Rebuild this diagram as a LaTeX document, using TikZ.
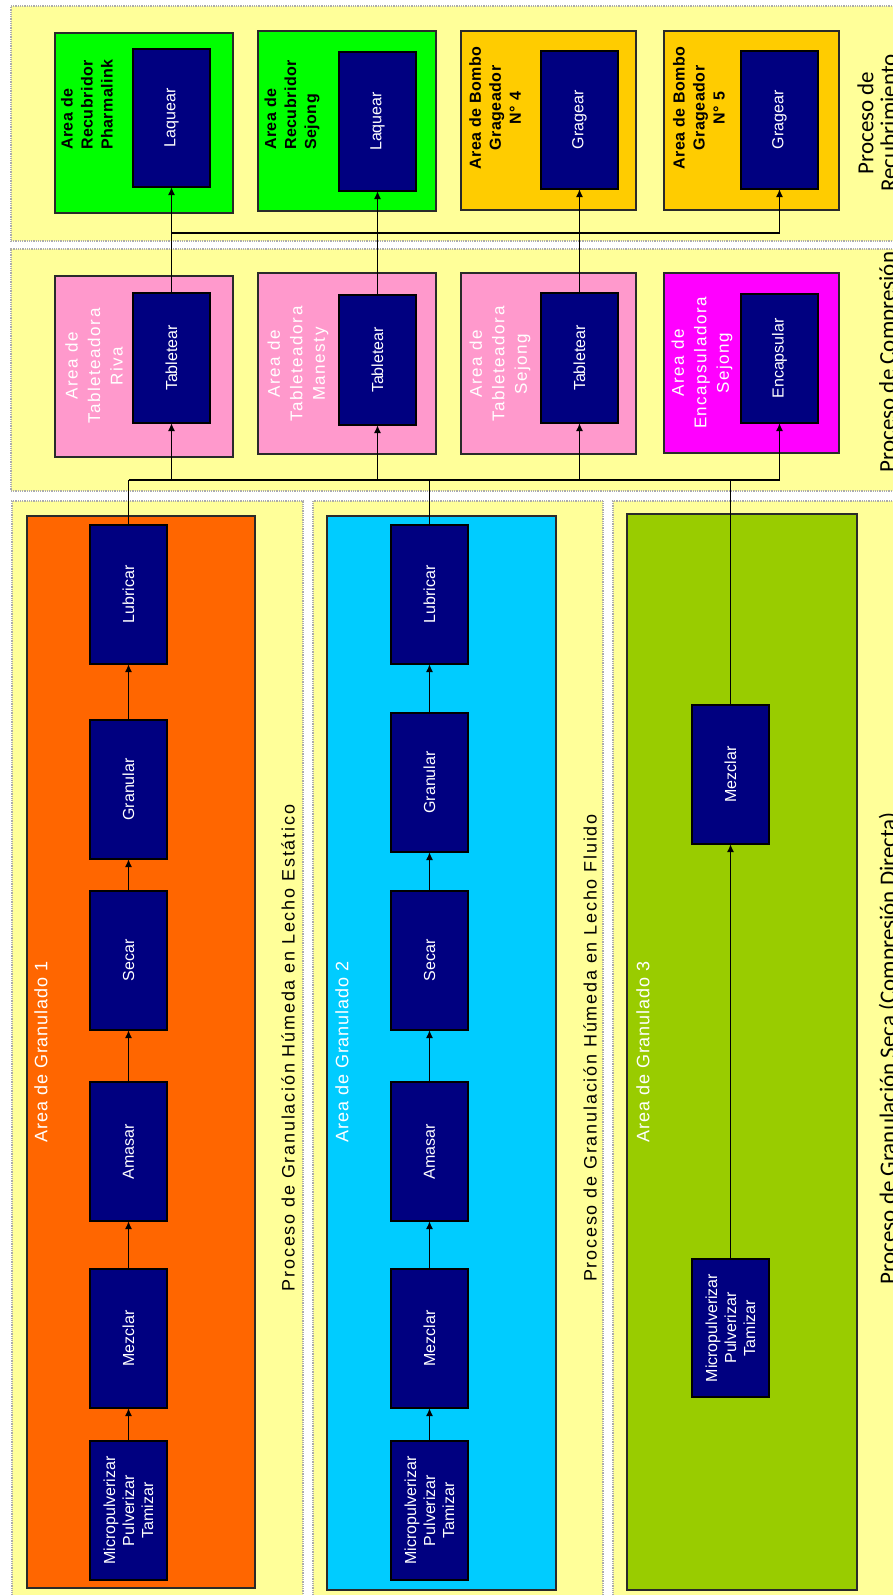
\documentclass[tikz,border=0pt]{standalone}
\usepackage{fontspec}
\setmainfont{Liberation Sans}
\newfontfamily\calfont{Carlito}
\newfontfamily\areafont{Liberation Sans}[LetterSpace=9.0]
\newfontfamily\granfont{Liberation Sans}[LetterSpace=5.0]
\newfontfamily\procfont{Liberation Sans}[LetterSpace=10.0]
\newfontfamily\boldlbl{Liberation Sans Bold}[LetterSpace=3.0]
\usetikzlibrary{arrows.meta}

\definecolor{panelY}{HTML}{FFFF99}
\definecolor{orangeA}{HTML}{FF6600}
\definecolor{cyanA}{HTML}{00CCFF}
\definecolor{greenA}{HTML}{99CC00}
\definecolor{limeA}{HTML}{00FF00}
\definecolor{goldA}{HTML}{FFCC00}
\definecolor{pinkA}{HTML}{FF99CC}
\definecolor{magA}{HTML}{FF00FF}
\definecolor{navyA}{HTML}{000080}
\definecolor{edgeA}{HTML}{2A2A2A}

\begin{document}
\begin{tikzpicture}[x=1pt,y=-1pt,
  rect/.style={rectangle, inner sep=0pt, outer sep=0pt, anchor=north west},
  panel/.style={rect, fill=panelY, draw=gray!65, line width=1.4pt, dash pattern=on 1pt off 0.8pt},
  area/.style={rect, draw=edgeA, line width=1.3pt},
  stage/.style={rect, fill=navyA, draw=black, line width=1.3pt, minimum width=77pt, minimum height=139pt},
  stagetxt/.style={rotate=90, text=white, align=center, inner sep=0pt, font=\fontsize{16}{19}\selectfont},
  areatxt/.style={rotate=90, text=white, align=center, inner sep=0pt, font=\areafont\fontsize{17}{22.5}\selectfont},
  grantxt/.style={rotate=90, text=white, inner sep=0pt, font=\granfont\fontsize{18}{22}\selectfont},
  proctxt/.style={rotate=90, text=black, inner sep=0pt, font=\procfont\fontsize{18}{22}\selectfont},
  sidetxt/.style={rotate=90, text=black, align=center, inner sep=0pt, font=\calfont\fontsize{23}{23}\selectfont},
  boldtxt/.style={rotate=90, text=black, inner sep=0pt, font=\boldlbl\fontsize{16}{20}\selectfont},
  arr/.style={line width=1.8pt, -{Latex[length=8pt,width=7pt]}},
  riser/.style={line width=1.2pt},
  busline/.style={line width=1.6pt}]

\useasboundingbox (0,0) rectangle (893,1595);
\clip (0,0) rectangle (893,1595);
\fill[white] (0,0) rectangle (893,1595);

% ---------- process panels ----------
\node[panel, minimum width=900pt, minimum height=235pt] (pRec) at (11,6) {};
\node[panel, minimum width=900pt, minimum height=242pt] (pComp) at (11,249) {};
\node[panel, minimum width=291pt, minimum height=1110pt] (pG1) at (12,501) {};
\node[panel, minimum width=290pt, minimum height=1110pt] (pG2) at (313,501) {};
\node[panel, minimum width=300pt, minimum height=1110pt] (pG3) at (613,501) {};

% ---------- granulation areas ----------
\node[area, fill=orangeA, minimum width=228pt, minimum height=1072pt] (ga1) at (27,516) {};
\node[area, fill=cyanA, minimum width=229pt, minimum height=1074pt] (ga2) at (327,516) {};
\node[area, fill=greenA, minimum width=230pt, minimum height=1076pt] (ga3) at (627,514) {};

% ---------- coating areas ----------
\node[area, fill=limeA, minimum width=178pt, minimum height=180pt] (aPh) at (55,33) {};
\node[area, fill=limeA, minimum width=178pt, minimum height=180pt] (aSj) at (258,31) {};
\node[area, fill=goldA, minimum width=175pt, minimum height=179pt] (aB4) at (461,31) {};
\node[area, fill=goldA, minimum width=175pt, minimum height=179pt] (aB5) at (664,31) {};

% ---------- compression areas ----------
\node[area, fill=pinkA, minimum width=178pt, minimum height=181pt] (aRi) at (55,276) {};
\node[area, fill=pinkA, minimum width=178pt, minimum height=181pt] (aMa) at (258,273) {};
\node[area, fill=pinkA, minimum width=175pt, minimum height=181pt] (aTS) at (461,273) {};
\node[area, fill=magA, minimum width=175pt, minimum height=180pt] (aEn) at (664,273) {};

% ---------- operation boxes: coating ----------
\node[stage, minimum height=138pt] (l1) at (133,49) {};
\node[stage, minimum height=139pt] (l2) at (339,52) {};
\node[stage, minimum height=138pt] (g4) at (541,51) {};
\node[stage, minimum height=138pt] (g5) at (741,51) {};
\node[stagetxt] at (l1) {Laquear};
\node[stagetxt] at (l2) {Laquear};
\node[stagetxt] at (g4) {Gragear};
\node[stagetxt] at (g5) {Gragear};

% ---------- operation boxes: compression ----------
\node[stage, minimum height=130pt] (t1) at (133,293) {};
\node[stage, minimum height=130pt] (t2) at (339,295) {};
\node[stage, minimum height=130pt] (t3) at (541,293) {};
\node[stage, minimum height=129pt] (enc) at (741,294) {};
\node[stagetxt] at (t1) {Tabletear};
\node[stagetxt] at (t2) {Tabletear};
\node[stagetxt] at (t3) {Tabletear};
\node[stagetxt] at (enc) {Encapsular};

% ---------- operation boxes: granulation 1 ----------
\node[stage] (c1f) at (90,525) {};
\node[stage] (c1e) at (90,720) {};
\node[stage] (c1d) at (90,891) {};
\node[stage] (c1c) at (90,1082) {};
\node[stage] (c1b) at (90,1269) {};
\node[stage] (c1a) at (90,1441) {};
\node[stagetxt] at (c1f) {Lubricar};
\node[stagetxt] at (c1e) {Granular};
\node[stagetxt] at (c1d) {Secar};
\node[stagetxt] at (c1c) {Amasar};
\node[stagetxt] at (c1b) {Mezclar};
\node[stagetxt] at (c1a) {Micropulverizar\\Pulverizar\\Tamizar};

% ---------- operation boxes: granulation 2 ----------
\node[stage] (c2f) at (391,525) {};
\node[stage] (c2e) at (391,713) {};
\node[stage] (c2d) at (391,891) {};
\node[stage] (c2c) at (391,1082) {};
\node[stage] (c2b) at (391,1269) {};
\node[stage] (c2a) at (391,1441) {};
\node[stagetxt] at (c2f) {Lubricar};
\node[stagetxt] at (c2e) {Granular};
\node[stagetxt] at (c2d) {Secar};
\node[stagetxt] at (c2c) {Amasar};
\node[stagetxt] at (c2b) {Mezclar};
\node[stagetxt] at (c2a) {Micropulverizar\\Pulverizar\\Tamizar};

% ---------- operation boxes: granulation 3 ----------
\node[stage] (c3b) at (692,705) {};
\node[stage, minimum height=138pt] (c3a) at (692,1259) {};
\node[stagetxt] at (c3b) {Mezclar};
\node[stagetxt] at (c3a) {Micropulverizar\\Pulverizar\\Tamizar};

% ---------- area labels ----------
\node[boldtxt, anchor=west, align=left] at (87,150) {Area de\\Recubridor\\Pharmalink};
\node[boldtxt, anchor=west, align=left] at (292,150) {Area de\\Recubridor\\Sejong};
\node[boldtxt, align=center] at (495,108) {Area de Bombo\\Grageador\\N° 4};
\node[boldtxt, align=center] at (699,108) {Area de Bombo\\Grageador\\N° 5};

\node[areatxt] at (94,366) {Area de\\Tableteadora\\Riva};
\node[areatxt] at (298,364) {Area de\\Tableteadora\\Manesty};
\node[areatxt] at (500,364) {Area de\\Tableteadora\\Sejong};
\node[areatxt] at (702,363) {Area de\\Encapsuladora\\Sejong};

\node[grantxt] at (41,1052) {Area de Granulado 1};
\node[grantxt] at (342,1052) {Area de Granulado 2};
\node[grantxt] at (643,1052) {Area de Granulado 3};

% ---------- process labels ----------
\node[proctxt] at (288,1048) {Proceso de Granulación Húmeda en Lecho Estático};
\node[proctxt] at (590,1048) {Proceso de Granulación Húmeda en Lecho Fluido};
\node[sidetxt] at (889,1048) {Proceso de Granulación Seca (Compresión Directa)};
\node[sidetxt] at (889,362) {Proceso de Compresión};
\node[sidetxt] at (877,123) {Proceso de\\Recubrimiento};

% ---------- flow within granulation areas ----------
\foreach \col in {c1,c2}{
  \draw[arr] (\col a.north) -- (\col b.south);
  \draw[arr] (\col b.north) -- (\col c.south);
  \draw[arr] (\col c.north) -- (\col d.south);
  \draw[arr] (\col d.north) -- (\col e.south);
  \draw[arr] (\col e.north) -- (\col f.south);
}
\draw[arr] (c3a.north) -- (c3b.south);

% ---------- collector towards compression ----------
\coordinate (bus) at (0,480);
\coordinate (split) at (0,233);
\draw[riser] (c1f.north) -- (c1f.north |- bus);
\draw[riser] (c2f.north) -- (c2f.north |- bus);
\draw[riser] (c3b.north) -- (c3b.north |- bus);
\draw[busline] (c1f.north |- bus) -- (enc.south |- bus);
\foreach \t in {t1,t2,t3,enc}
  \draw[arr] (\t.south |- bus) -- (\t.south);

% ---------- compression towards coating ----------
\draw[arr] (t1.north) -- (l1.south);
\draw[arr] (t2.north) -- (l2.south);
\draw[arr] (t3.north) -- (g4.south);
\draw[arr] (t1.north |- split) -| (g5.south);

\end{tikzpicture}
\end{document}
